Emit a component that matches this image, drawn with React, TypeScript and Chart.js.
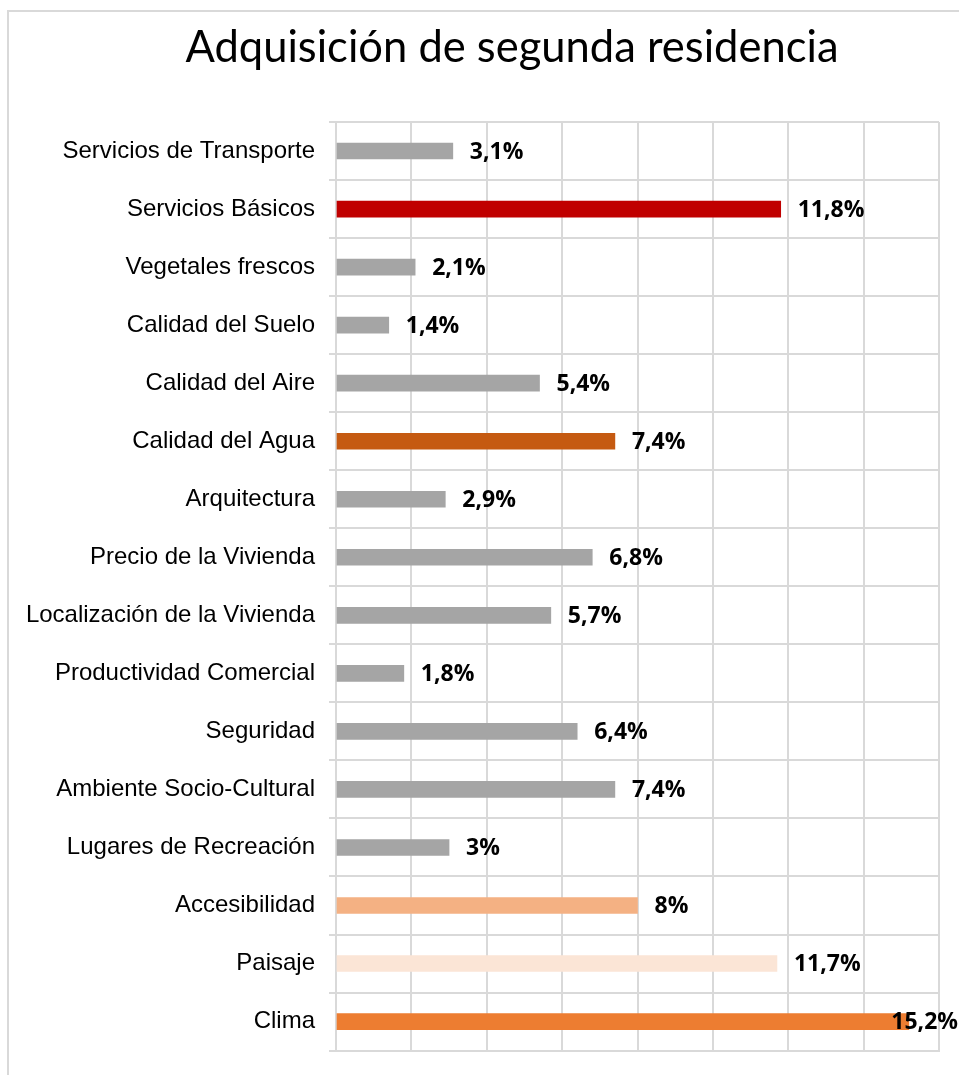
import React, { useEffect, useRef } from "react";
import { Chart, registerables } from "chart.js";

Chart.register(...registerables);

const categories: string[] = [
  "Servicios de Transporte",
  "Servicios Básicos",
  "Vegetales frescos",
  "Calidad del Suelo",
  "Calidad del Aire",
  "Calidad del Agua",
  "Arquitectura",
  "Precio de la Vivienda",
  "Localización de la Vivienda",
  "Productividad Comercial",
  "Seguridad",
  "Ambiente Socio-Cultural",
  "Lugares de Recreación",
  "Accesibilidad",
  "Paisaje",
  "Clima",
];

const values: number[] = [3.1, 11.8, 2.1, 1.4, 5.4, 7.4, 2.9, 6.8, 5.7, 1.8, 6.4, 7.4, 3, 8, 11.7, 15.2];

const barColors: string[] = [
  "#A5A5A5",
  "#C00000",
  "#A5A5A5",
  "#A5A5A5",
  "#A5A5A5",
  "#C55A11",
  "#A5A5A5",
  "#A5A5A5",
  "#A5A5A5",
  "#A5A5A5",
  "#A5A5A5",
  "#A5A5A5",
  "#A5A5A5",
  "#F4B183",
  "#FBE5D6",
  "#ED7D31",
];

const titleText = "Adquisición de segunda residencia";
const xMin = 0;
const xMax = 16;
const xStep = 2;

const GRID = "#D9D9D9";
const LABEL_FONT = "bold 23px 'Open Sans', Lato, sans-serif";
const TITLE_FONT = "43.5px Lato, 'Open Sans', sans-serif";

const valueLabels = {
  id: "valueLabels",
  afterDatasetsDraw(chart: any) {
    const ctx = chart.ctx;
    const meta = chart.getDatasetMeta(0);
    const area = chart.chartArea;
    ctx.save();
    ctx.font = LABEL_FONT;
    ctx.fillStyle = "#000";
    ctx.textBaseline = "middle";
    ctx.textAlign = "left";
    meta.data.forEach((el: any, i: number) => {
      const v = values[i];
      const txt = String(v).replace(".", ",") + "%";
      const w = ctx.measureText(txt).width;
      let x = el.x + 17;
      const limit = area.right + 19;
      if (x + w > limit) x = limit - w;
      ctx.fillText(txt, x, el.y + 1);
    });
    ctx.restore();
  },
};

const chartTitle = {
  id: "chartTitle",
  afterDraw(chart: any) {
    const ctx = chart.ctx;
    ctx.save();
    ctx.font = TITLE_FONT;
    ctx.fillStyle = "#000";
    ctx.textAlign = "center";
    ctx.textBaseline = "alphabetic";
    ctx.fillText(titleText, chart.width / 2, 62);
    ctx.restore();
  },
};

export default function App() {
  const ref = useRef<HTMLCanvasElement | null>(null);
  useEffect(() => {
    if (!ref.current) return;
    const chart = new Chart(ref.current, {
      type: "bar",
      data: {
        labels: categories,
        datasets: [
          {
            data: values,
            backgroundColor: barColors,
            borderWidth: 0,
            barThickness: 16,
          },
        ],
      },
      options: {
        indexAxis: "y",
        responsive: false,
        animation: false,
        layout: { padding: { left: 0, right: 85, top: 122, bottom: 14 } },
        plugins: {
          legend: { display: false },
          tooltip: { enabled: false },
          title: { display: false },
        },
        scales: {
          x: {
            min: xMin,
            max: xMax,
            ticks: { display: false, stepSize: xStep },
            grid: { color: GRID, lineWidth: 2, drawTicks: false },
            border: { display: true, color: GRID, width: 2 },
          },
          y: {
            afterFit: (s: any) => {
              s.width = 336;
            },
            ticks: {
              color: "#000",
              font: { family: "'Liberation Sans', Arial, sans-serif", size: 24 },
              padding: 14,
            },
            grid: { color: GRID, lineWidth: 2, tickLength: 7, offset: true },
            border: { display: true, color: GRID, width: 2 },
          },
        },
      },
      plugins: [valueLabels, chartTitle],
    });
    return () => chart.destroy();
  }, []);

  return (
    <div style={{ position: "absolute", left: 0, top: 0, width: 959, height: 1075, overflow: "hidden", background: "#fff" }}>
      <div
        style={{
          position: "absolute",
          left: 7,
          top: 10,
          width: 1100,
          height: 1200,
          border: "2px solid #D9D9D9",
          boxSizing: "border-box",
        }}
      />
      <canvas ref={ref} width={1024} height={1079} style={{ position: "absolute", left: 0, top: 0 }} />
    </div>
  );
}
